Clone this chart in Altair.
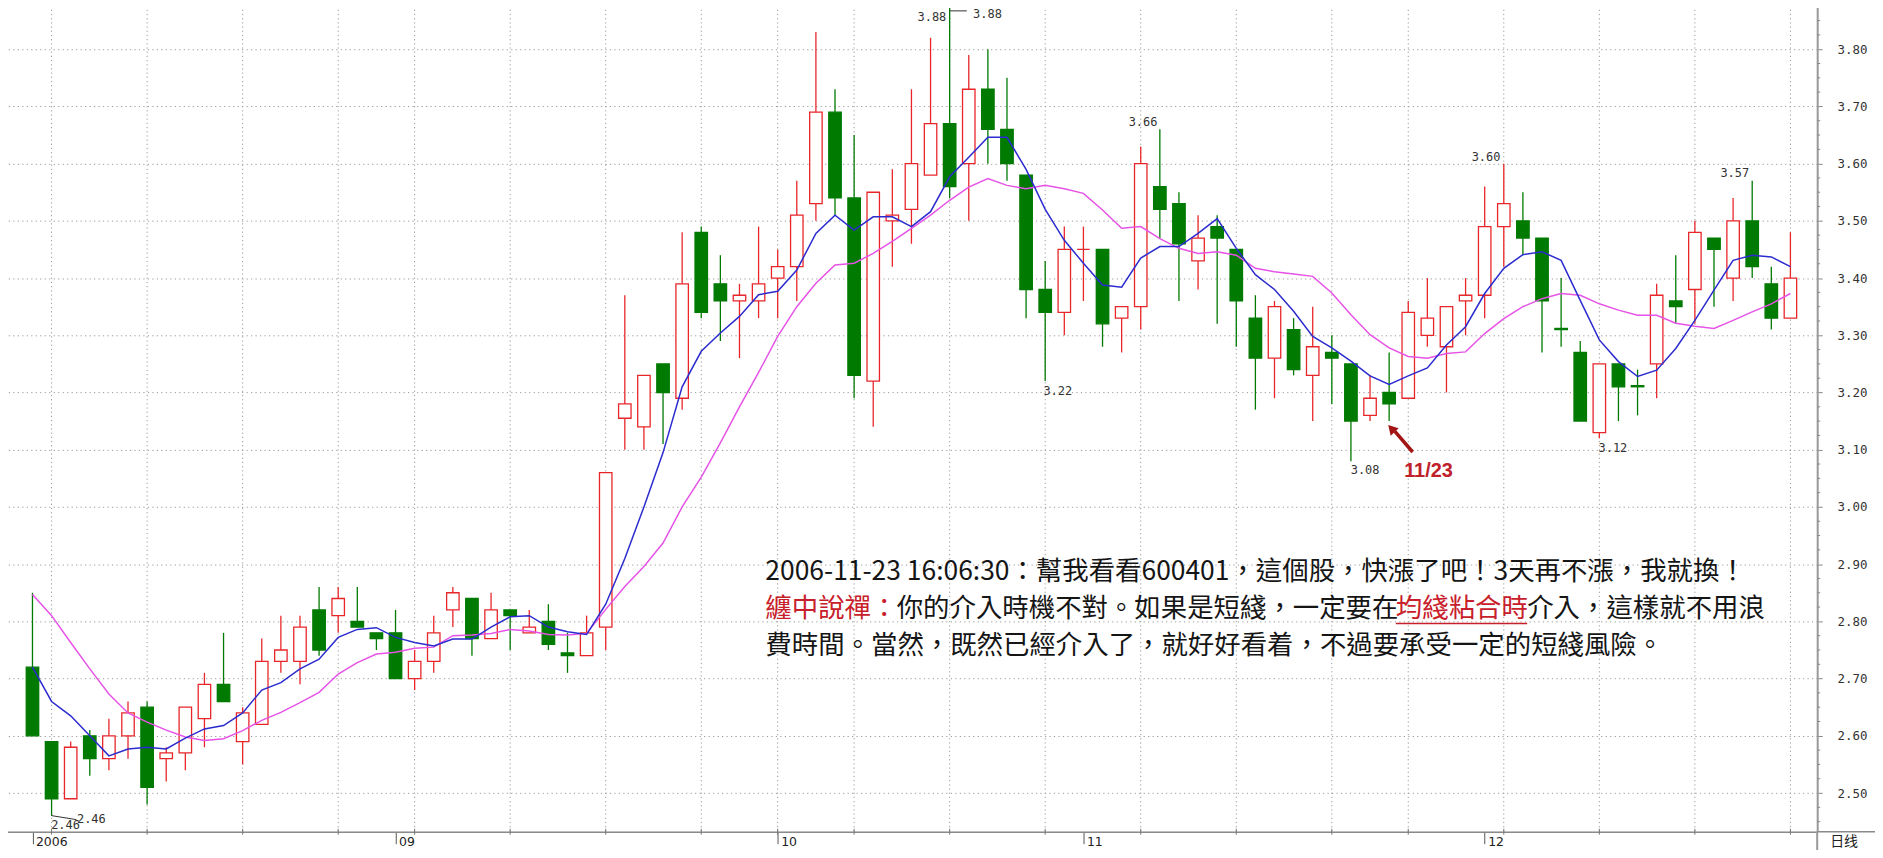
import unicodedata
import altair as alt
import pandas as pd

# ---------------- data ----------------
open_ = [2.72, 2.59, 2.49, 2.60, 2.56, 2.60, 2.65, 2.56, 2.57, 2.63,
         2.69, 2.59, 2.62, 2.73, 2.73, 2.82, 2.81, 2.80, 2.78, 2.78,
         2.70, 2.73, 2.82, 2.84, 2.77, 2.82, 2.78, 2.80, 2.745, 2.74,
         2.79, 3.155, 3.14, 3.25, 3.19, 3.48, 3.39, 3.36, 3.36, 3.40,
         3.42, 3.53, 3.69, 3.54, 3.22, 3.50, 3.52, 3.58, 3.67, 3.60,
         3.73, 3.66, 3.58, 3.38, 3.34, 3.45, 3.45, 3.33, 3.35, 3.56,
         3.53, 3.43, 3.49, 3.45, 3.33, 3.26, 3.31, 3.23, 3.27, 3.25,
         3.16, 3.20, 3.19, 3.30, 3.28, 3.36, 3.37, 3.49, 3.50, 3.47,
         3.312, 3.27, 3.13, 3.25, 3.212, 3.25, 3.36, 3.38, 3.47, 3.40,
         3.50, 3.39, 3.33]
high = [2.85, 2.59, 2.59, 2.61, 2.63, 2.66, 2.66, 2.58, 2.65, 2.71,
        2.78, 2.65, 2.77, 2.81, 2.81, 2.86, 2.86, 2.86, 2.78, 2.82,
        2.75, 2.81, 2.86, 2.84, 2.85, 2.82, 2.82, 2.83, 2.78, 2.81,
        3.06, 3.37, 3.23, 3.25, 3.48, 3.49, 3.44, 3.39, 3.49, 3.45,
        3.57, 3.83, 3.73, 3.65, 3.55, 3.59, 3.73, 3.82, 3.88, 3.79,
        3.80, 3.75, 3.58, 3.43, 3.49, 3.49, 3.45, 3.35, 3.63, 3.66,
        3.55, 3.51, 3.51, 3.45, 3.37, 3.36, 3.33, 3.35, 3.30, 3.25,
        3.23, 3.27, 3.36, 3.40, 3.35, 3.40, 3.56, 3.60, 3.55, 3.47,
        3.40, 3.29, 3.25, 3.25, 3.24, 3.39, 3.44, 3.50, 3.47, 3.54,
        3.57, 3.42, 3.48]
low = [2.60, 2.46, 2.49, 2.53, 2.54, 2.56, 2.48, 2.52, 2.54, 2.58,
       2.66, 2.55, 2.62, 2.71, 2.69, 2.74, 2.78, 2.79, 2.75, 2.70,
       2.68, 2.71, 2.79, 2.74, 2.77, 2.75, 2.78, 2.75, 2.71, 2.74,
       2.75, 3.10, 3.10, 3.11, 3.17, 3.33, 3.29, 3.26, 3.33, 3.33,
       3.36, 3.50, 3.51, 3.19, 3.14, 3.42, 3.46, 3.58, 3.54, 3.50,
       3.60, 3.57, 3.33, 3.22, 3.30, 3.36, 3.28, 3.27, 3.31, 3.47,
       3.36, 3.38, 3.32, 3.28, 3.17, 3.19, 3.23, 3.15, 3.18, 3.08,
       3.15, 3.15, 3.19, 3.28, 3.20, 3.30, 3.33, 3.42, 3.44, 3.27,
       3.28, 3.15, 3.12, 3.15, 3.16, 3.19, 3.32, 3.32, 3.35, 3.36,
       3.40, 3.31, 3.33]
close = [2.60, 2.49, 2.58, 2.56, 2.60, 2.64, 2.51, 2.57, 2.65, 2.69,
         2.66, 2.64, 2.73, 2.75, 2.79, 2.75, 2.84, 2.79, 2.77, 2.70,
         2.73, 2.78, 2.85, 2.77, 2.82, 2.81, 2.79, 2.76, 2.74, 2.78,
         3.06, 3.18, 3.23, 3.20, 3.39, 3.34, 3.36, 3.37, 3.39, 3.42,
         3.51, 3.69, 3.54, 3.23, 3.55, 3.51, 3.60, 3.67, 3.56, 3.73,
         3.66, 3.60, 3.38, 3.34, 3.45, 3.45, 3.32, 3.35, 3.60, 3.52,
         3.46, 3.47, 3.47, 3.36, 3.26, 3.35, 3.24, 3.28, 3.26, 3.15,
         3.19, 3.18, 3.34, 3.33, 3.35, 3.37, 3.49, 3.53, 3.47, 3.36,
         3.31, 3.15, 3.25, 3.21, 3.21, 3.37, 3.35, 3.48, 3.45, 3.50,
         3.42, 3.33, 3.40]
ma5 = [2.72, 2.66, 2.635, 2.60, 2.565, 2.577, 2.58, 2.577, 2.596, 2.612,
       2.618, 2.64, 2.68, 2.693, 2.717, 2.734, 2.772, 2.786, 2.789, 2.772,
       2.763, 2.757, 2.769, 2.769, 2.79, 2.808, 2.81, 2.79, 2.782, 2.777,
       2.83, 2.91, 3.0, 3.095, 3.21, 3.272, 3.304, 3.333, 3.371, 3.377,
       3.414, 3.478, 3.51, 3.484, 3.507, 3.507, 3.49, 3.516, 3.577, 3.611,
       3.646, 3.646, 3.59, 3.52, 3.466, 3.426, 3.388, 3.384, 3.435, 3.455,
       3.455, 3.478, 3.504, 3.452, 3.406, 3.38, 3.342, 3.298, 3.278, 3.255,
       3.229, 3.214, 3.229, 3.243, 3.283, 3.315, 3.373, 3.417, 3.441, 3.446,
       3.431, 3.361, 3.292, 3.254, 3.228, 3.239, 3.277, 3.326, 3.379, 3.431,
       3.44, 3.437, 3.42]
ma10 = [2.847, 2.81, 2.763, 2.717, 2.673, 2.64, 2.624, 2.61, 2.598, 2.592,
        2.595, 2.609, 2.627, 2.641, 2.658, 2.676, 2.708, 2.728, 2.743, 2.746,
        2.753, 2.755, 2.775, 2.776, 2.779, 2.786, 2.783, 2.777, 2.776, 2.779,
        2.821, 2.861, 2.896, 2.937, 3.0, 3.052, 3.112, 3.175, 3.235, 3.298,
        3.35, 3.391, 3.423, 3.426, 3.443, 3.464, 3.487, 3.51, 3.536, 3.559,
        3.574, 3.562, 3.556, 3.562, 3.556, 3.548, 3.519, 3.487, 3.49, 3.469,
        3.452, 3.443, 3.446, 3.44, 3.417, 3.411, 3.407, 3.403, 3.374, 3.336,
        3.301, 3.278, 3.263, 3.26, 3.268, 3.271, 3.303, 3.329, 3.35, 3.364,
        3.373, 3.37, 3.355, 3.344, 3.335, 3.335, 3.321, 3.316, 3.312, 3.326,
        3.341, 3.355, 3.373]

month_idx = [0, 19, 39, 55, 76]
month_lbl = ["2006", "09", "10", "11", "12"]
vgrid_idx = [1, 6, 11, 16, 20, 25, 30, 35, 39, 43, 48, 53, 58, 63, 68, 72, 77, 82, 87, 92]
ytick_vals = [2.5, 2.6, 2.7, 2.8, 2.9, 3.0, 3.1, 3.2, 3.3, 3.4, 3.5, 3.6, 3.7, 3.8]

peak_txt = ["3.88", "3.88", "3.22", "3.66", "3.08", "3.60", "3.12", "3.57", "2.46", "2.46"]
peak_x = [47.07, 49.98, 53.66, 58.12, 69.74, 76.07, 82.71, 89.09, 1.73, 3.08]
peak_y = [3.857, 3.862, 3.2024, 3.673, 3.065, 3.612, 3.103, 3.584, 2.4446, 2.455]

line1 = [("2006-11-23 16:06:30：幫我看看600401，這個股，快漲了吧！3天再不漲，我就換！", "#151515")]
line2 = [("纏中說禪：", "#c8202a"), ("你的介入時機不對。如果是短綫，一定要在", "#151515"),
         ("均綫粘合時", "#c8202a"), ("介入，這樣就不用浪", "#151515")]
line3 = [("費時間。當然，既然已經介入了，就好好看着，不過要承受一定的短綫風險。", "#151515")]
text_lines = [line1, line2, line3]
text_line_y = [2.8854, 2.8209, 2.7564]
text_x0 = 38.355

# ---------------- layout helpers ----------------
W, H = 1823, 833
X0, X1 = -1.437, 93.14
PX_PER_IDX = W / (X1 - X0)
FS = 26.5

RED = "#e8262a"
GREEN = "#007a00"

xscale = alt.Scale(domain=[X0, X1], nice=False, zero=False)
yscale = alt.Scale(domain=[2.4324, 3.8836], nice=False, zero=False)

lbl_expr = " : ".join(
    f"datum.value == {v} ? '{t}'" for v, t in zip(month_idx, month_lbl)) + " : ''"
xaxis = alt.Axis(values=month_idx, labelExpr=lbl_expr, grid=False, title=None,
                 domainColor="#8a8a8a", domainWidth=1.5, tickColor="#555", tickSize=12,
                 tickWidth=1, labelAlign="left", labelBaseline="top", labelPadding=-8,
                 labelOffset=3, labelFont="DejaVu Sans", labelFontSize=12.5,
                 labelColor="#222", labelFlush=False, labelOverlap=False)
yaxis = alt.Axis(orient="right", values=ytick_vals, format=".2f", title=None, grid=True,
                 gridDash=[1.2, 3.3], gridColor="#9a9a9a", gridWidth=1,
                 domainColor="#9a9a9a", domainWidth=2, tickColor="#888", tickSize=5,
                 labelPadding=15, labelFont="DejaVu Sans Mono", labelFontSize=12.5,
                 labelColor="#333", labelAlign="left", labelBaseline="middle",
                 labelOverlap=False, labelFlush=False)


def X(f):
    return alt.X(f, scale=xscale, axis=xaxis, title=None)


def Y(f):
    return alt.Y(f, scale=yscale, axis=yaxis, title=None)


n = len(open_)
df = pd.DataFrame({
    "i": list(range(n)), "o": open_, "h": high, "l": low, "c": close,
})
df["col"] = [RED if c >= o else GREEN for o, c in zip(open_, close)]
df["fill"] = ["#ffffff" if c >= o else GREEN for o, c in zip(open_, close)]

ma_df = pd.DataFrame({"i": list(range(n)), "ma5": ma5, "ma10": ma10})

# vertical dotted grid
vgrid = alt.Chart(pd.DataFrame({"g": vgrid_idx})).mark_rule(
    color="#9a9a9a", strokeDash=[1.2, 3.0], strokeWidth=1
).encode(x=X("g:Q"))

# small ticks on the date axis at grid positions
gticks = alt.Chart(pd.DataFrame({"g": vgrid_idx})).mark_rule(
    color="#777", strokeWidth=1
).encode(x=X("g:Q"), y=alt.value(830), y2=alt.value(836))

wicks = alt.Chart(df).mark_rule(strokeWidth=1.3).encode(
    x=X("i:Q"), y=Y("l:Q"), y2="h:Q", color=alt.Color("col:N", scale=None))

bodies = alt.Chart(df).mark_bar(size=12.5, strokeWidth=1.3).encode(
    x=X("i:Q"), y=Y("o:Q"), y2="c:Q",
    fill=alt.Fill("fill:N", scale=None), stroke=alt.Stroke("col:N", scale=None))

ma10_line = alt.Chart(ma_df).mark_line(color="#e653e6", strokeWidth=1.5).encode(
    x=X("i:Q"), y=Y("ma10:Q"))
ma5_line = alt.Chart(ma_df).mark_line(color="#2b2bcf", strokeWidth=1.5).encode(
    x=X("i:Q"), y=Y("ma5:Q"))

peaks = alt.Chart(pd.DataFrame({"x": peak_x, "y": peak_y, "t": peak_txt})).mark_text(
    font="DejaVu Sans Mono", fontSize=12, color="#333"
).encode(x=X("x:Q"), y=Y("y:Q"), text="t:N")

# connectors for the 2.46 and 3.88 labels
conn = alt.Chart(pd.DataFrame({"x": [1.0, 2.3], "y": [2.4605, 2.4535]})).mark_line(
    color="#333", strokeWidth=1).encode(x=X("x:Q"), y=Y("y:Q"))
conn2 = alt.Chart(pd.DataFrame({"x": [48.0, 48.9], "y": [3.867, 3.867]})).mark_line(
    color="#333", strokeWidth=1).encode(x=X("x:Q"), y=Y("y:Q"))

# comment text
rows = []
for line, ly in zip(text_lines, text_line_y):
    x = text_x0
    for seg, colr in line:
        rows.append({"x": x, "y": ly, "t": seg, "c": colr})
        w = 0.0
        for ch in seg:
            w += FS if unicodedata.east_asian_width(ch) in ("W", "F") else FS * 0.53
        x += w / PX_PER_IDX
tdf = pd.DataFrame(rows)
comment = alt.Chart(tdf).mark_text(
    align="left", baseline="middle", font="Noto Sans CJK TC", fontSize=FS
).encode(x=X("x:Q"), y=Y("y:Q"), text="t:N", color=alt.Color("c:N", scale=None))

ul_start = text_x0 + 24 * FS / PX_PER_IDX
ul_end = ul_start + 5 * FS / PX_PER_IDX
underline = alt.Chart(pd.DataFrame({"x": [ul_start], "x2": [ul_end], "y": [2.7965]})).mark_rule(
    color="#c8202a", strokeWidth=1.5).encode(x=X("x:Q"), x2="x2:Q", y=Y("y:Q"))

# arrow to 11/23 candle
arrow_shaft = alt.Chart(pd.DataFrame({"x": [72.23, 71.3], "y": [3.096, 3.132]})).mark_line(
    color="#a31515", strokeWidth=3.5).encode(x=X("x:Q"), y=Y("y:Q"))
arrow_head = alt.Chart(pd.DataFrame({"x": [71.12], "y": [3.137]})).mark_point(
    shape="triangle-up", filled=True, color="#a31515", size=120, angle=317, opacity=1
).encode(x=X("x:Q"), y=Y("y:Q"))
date_lbl = alt.Chart(pd.DataFrame({"x": [73.06], "y": [3.063], "t": ["11/23"]})).mark_text(
    font="Liberation Sans", fontSize=20, fontWeight="bold", color="#c0202a"
).encode(x=X("x:Q"), y=Y("y:Q"), text="t:N")

# minor ticks on the price axis
minor = [round(2.45 + 0.025 * k, 3) for k in range(58)]
minor = [m for m in minor if abs(m * 10 - round(m * 10)) > 1e-6 and 2.44 < m < 3.88]
mticks = alt.Chart(pd.DataFrame({"m": minor})).mark_rule(color="#888", strokeWidth=1).encode(
    y=Y("m:Q"), x=alt.value(W), x2=alt.value(W + 3))

# frame bits beside the axes
frame_h = alt.Chart(pd.DataFrame({"a": [0]})).mark_rule(color="#8a8a8a", strokeWidth=1.5).encode(
    x=alt.value(W), x2=alt.value(1883), y=alt.value(H))
frame_v = alt.Chart(pd.DataFrame({"a": [0]})).mark_rule(color="#9a9a9a", strokeWidth=2).encode(
    x=alt.value(W), y=alt.value(H), y2=alt.value(870))
rixian = alt.Chart(pd.DataFrame({"t": ["日线"]})).mark_text(
    font="Noto Sans CJK SC", fontSize=14, color="#222", align="left", baseline="top"
).encode(x=alt.value(1836), y=alt.value(836), text="t:N")

chart = alt.layer(
    vgrid, gticks, wicks, bodies, ma10_line, ma5_line, peaks, conn, conn2, comment, underline,
    arrow_shaft, arrow_head, date_lbl, mticks, frame_h, frame_v, rixian
).properties(
    width=W, height=H,
    autosize=alt.AutoSizeParams(type="none"),
    padding={"left": -8, "top": -8, "right": 58, "bottom": 17},
).configure_view(stroke=None).configure(background="#ffffff")

chart.save("out.html", embed_options={"renderer": "svg", "actions": False})
